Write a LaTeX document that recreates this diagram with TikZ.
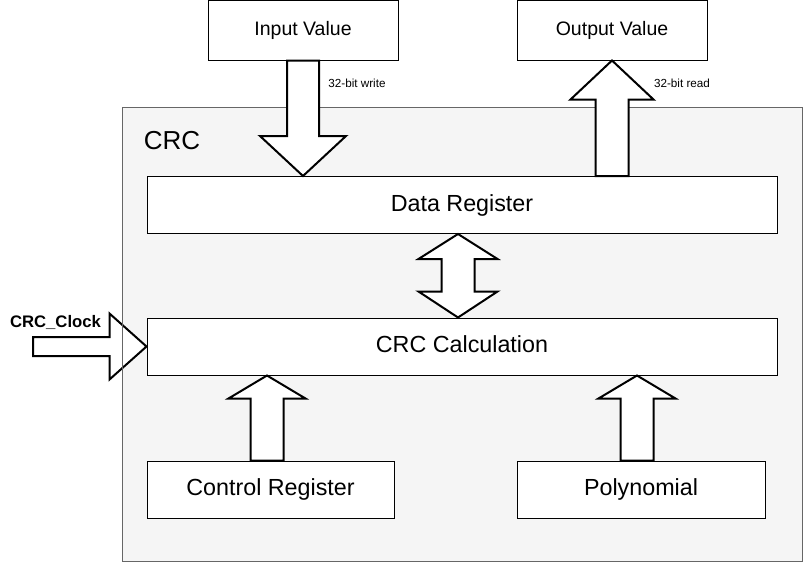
\documentclass[tikz,border=0pt]{standalone}
\usepackage{fontspec}
\setmainfont{Liberation Sans}
\usetikzlibrary{calc, positioning}

\definecolor{crcfill}{HTML}{F5F5F5}
\definecolor{crcline}{HTML}{666666}

\tikzset{
	box/.style = {draw, fill = white, line width = 1pt, inner sep = 0pt},
	fat/.style = {draw, fill = white, line width = 2pt, line join = miter},
	small/.style = {font = \fontsize{11.7}{13}\selectfont},
}

% #1 base, #2 tip, #3 half shaft, #4 half head, #5 head length
\newcommand\fatarrow[5]{%
	\draw[fat] let \p1 = (#1), \p2 = (#2), \n1 = {sign(\y2-\y1)} in
		({\x1-#3},\y1) -- ({\x1-#3},{\y2-(\n1)*#5}) -- ({\x1-#4},{\y2-(\n1)*#5}) -- (\x1,\y2)
		-- ({\x1+#4},{\y2-(\n1)*#5}) -- ({\x1+#3},{\y2-(\n1)*#5}) -- ({\x1+#3},\y1) -- cycle;}

\begin{document}
\begin{tikzpicture}[x = 1pt, y = -1pt]
	\useasboundingbox (0,0) rectangle (803,562);
	
	\fill[crcfill] (122,107) rectangle (802,561);
	\node[font = \fontsize{26}{30}\selectfont] (crclabel) at (172,141) {CRC};
	
	\begin{scope}[every node/.style = {box, minimum width = 190pt, minimum height = 60pt, text height = 14.2pt, text depth = 4.1pt, font = \fontsize{19.5}{22}\selectfont}]
		\node (inval) at (303,30) {Input Value};
		\node (outval) at (612,30) {Output Value};
	\end{scope}
	
	\begin{scope}[every node/.style = {box, minimum height = 57pt, text height = 17pt, text depth = 4.9pt, font = \fontsize{23.3}{26}\selectfont}]
		\node[minimum width = 630pt] (datareg) at (462,205) {Data Register};
		\node[minimum width = 630pt] (crccalc) at (462,346.5) {CRC Calculation};
		\node[minimum width = 247pt] (ctrlreg) at (270.5,489.5) {Control Register};
		\node[minimum width = 248pt] (poly) at (641,489.5) {Polynomial};
	\end{scope}
	
	\coordinate (clk) at (33,346.5);
	\draw[fat] let \p1 = (clk), \p2 = (crccalc.west) in
		(\x1,{\y1+9.5}) -- ({\x2-37},{\y1+9.5}) -- ({\x2-37},{\y1+33}) -- (\x2,\y2)
		-- ({\x2-37},{\y1-33}) -- ({\x2-37},{\y1-9.5}) -- (\x1,{\y1-9.5}) -- cycle;
	\node[font = \bfseries\fontsize{16.7}{19}\selectfont] (clklabel) at (55.5,322) {CRC\_Clock};
	
	\draw[crcline, line width = 1pt] (122,107) rectangle (802,561);
	
	\fatarrow{inval.south}{datareg.north -| inval.south}{16}{43}{40}
	\fatarrow{datareg.north -| outval.south}{outval.south}{16.5}{41.5}{39}
	\fatarrow{$(ctrlreg.north)+(-3.5,0)$}{$(crccalc.south -| ctrlreg.north)+(-3.5,0)$}{16.5}{38.5}{23}
	\fatarrow{$(poly.north)+(-4,0)$}{$(crccalc.south -| poly.north)+(-4,0)$}{16.5}{38.5}{23}
	
	\draw[fat] let \p1 = ($(datareg.south)+(-4,0)$), \p2 = ($(crccalc.north)+(-4,0)$) in
		(\x1,\y1) -- ({\x1+39.5},{\y1-25}) -- ({\x1+16.5},{\y1-25}) -- ({\x1+16.5},{\y2+26})
		-- ({\x1+39.5},{\y2+26}) -- (\x2,\y2) -- ({\x1-39.5},{\y2+26}) -- ({\x1-16.5},{\y2+26})
		-- ({\x1-16.5},{\y1-25}) -- ({\x1-39.5},{\y1-25}) -- cycle;
	
	\node[small] (wlabel) at (357,83) {32-bit write};
	\node[small] (rlabel) at (682,83) {32-bit read};
\end{tikzpicture}
\end{document}
